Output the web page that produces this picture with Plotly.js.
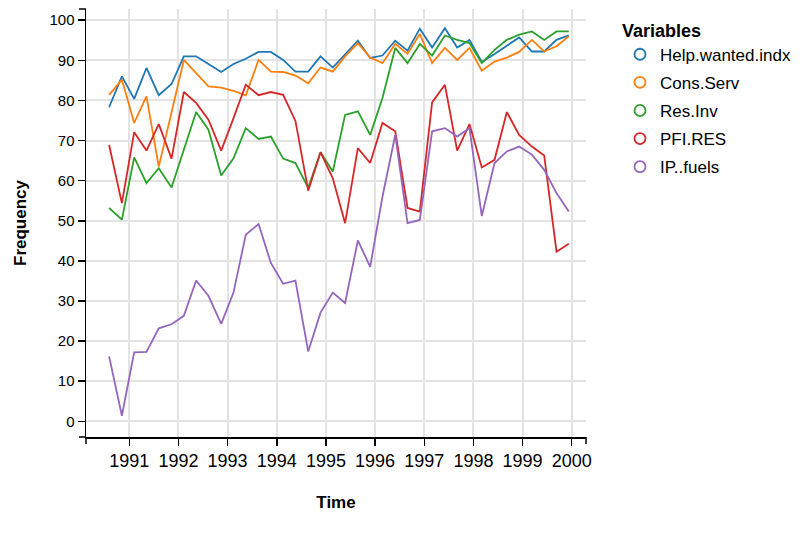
<!DOCTYPE html>
<html>
<head>
<meta charset="utf-8">
<script src="https://cdn.plot.ly/plotly-3.0.1.min.js"></script>
<style>html,body{margin:0;padding:0;background:#fff;}#chart{width:800px;height:547px;}</style>
</head>
<body>
<div id="chart"></div>
<script>
// Time (decimal years, quarterly observations)
const time = [1990.59, 1990.85, 1991.10, 1991.35, 1991.60, 1991.86, 1992.11, 1992.36, 1992.61, 1992.87,
              1993.12, 1993.37, 1993.63, 1993.88, 1994.13, 1994.38, 1994.64, 1994.89, 1995.14, 1995.39,
              1995.65, 1995.90, 1996.15, 1996.41, 1996.66, 1996.91, 1997.16, 1997.42, 1997.67, 1997.92,
              1998.17, 1998.43, 1998.68, 1998.93, 1999.19, 1999.44, 1999.69, 1999.94];

const seriesNames = ["Help.wanted.indx", "Cons.Serv", "Res.Inv", "PFI.RES", "IP..fuels"];
const seriesColors = ["#1f77b4", "#ff7f0e", "#2ca02c", "#d62728", "#9467bd"];

const helpWanted = [78.3, 86, 80.4, 88.1, 81.3, 84.1, 91, 91, 89.1, 87.1,
                    89.1, 90.4, 92.1, 92.1, 90.1, 87.2, 87.2, 91, 88.2, 91.6,
                    94.9, 90.6, 91.2, 94.9, 92.4, 97.9, 93.2, 98, 93.2, 95.1,
                    89.6, 91.6, 93.7, 95.7, 92.2, 92.2, 95.1, 96.2];
const consServ = [81.4, 85.2, 74.4, 81, 63.5, 77, 90.1, 86.8, 83.5, 83.2,
                  82.4, 81.3, 90.1, 87.2, 87.1, 86.2, 84.3, 88.2, 87.2, 91,
                  94.3, 90.7, 89.3, 94.1, 91.6, 96.6, 89.3, 93.1, 90.1, 93.1,
                  87.4, 89.7, 90.7, 92.1, 95.1, 92.2, 93.5, 96];
const resInv = [53.2, 50.3, 65.8, 59.4, 63.1, 58.3, 67.7, 77.1, 72.7, 61.3,
                65.6, 73.1, 70.4, 71, 65.5, 64.4, 58.2, 67.1, 62.3, 76.4,
                77.3, 71.4, 80.6, 93.1, 89.3, 94.1, 91.2, 96.2, 95.1, 94.3,
                89.3, 92.6, 95.1, 96.4, 97.2, 95.1, 97.2, 97.2];
const pfiRes = [68.9, 54.4, 72.1, 67.5, 74.1, 65.5, 82.1, 79.4, 75.2, 67.5,
                75.6, 83.9, 81.3, 82.1, 81.4, 74.9, 57.5, 67.1, 60.6, 49.4,
                68.1, 64.4, 74.4, 72.3, 53.2, 52.3, 79.5, 83.9, 67.5, 74.1,
                63.3, 65.2, 77.1, 71.4, 68.5, 66.3, 42.3, 44.3];
const ipFuels = [16.2, 1.4, 17.2, 17.3, 23.2, 24.2, 26.3, 35.1, 31.3, 24.3,
                 32.1, 46.5, 49.2, 39.5, 34.3, 35.1, 17.4, 27.1, 32.1, 29.5,
                 45.1, 38.5, 56, 71.4, 49.4, 50.2, 72.3, 73.1, 71, 73.1,
                 51.2, 64.4, 67.3, 68.5, 66.5, 62.7, 56.9, 52.3];

const xTickVals = [1991, 1992, 1993, 1994, 1995, 1996, 1997, 1998, 1999, 2000];
const xTickText = ["1991", "1992", "1993", "1994", "1995", "1996", "1997", "1998", "1999", "2000"];
const yTickVals = [0, 10, 20, 30, 40, 50, 60, 70, 80, 90, 100];

const seriesValues = [helpWanted, consServ, resInv, pfiRes, ipFuels];

const FONT = "Liberation Sans, Arial, Helvetica, sans-serif";

const traces = [];
seriesNames.forEach((name, i) => {
  traces.push({
    x: time, y: seriesValues[i], type: "scatter", mode: "lines", name: name,
    line: {color: seriesColors[i], width: 1.8},
    legendgroup: name, showlegend: false, hoverinfo: "x+y+name"
  });
});
seriesNames.forEach((name, i) => {
  traces.push({
    x: [null], y: [null], type: "scatter", mode: "markers", name: name,
    marker: {symbol: "circle-open", size: 11, color: seriesColors[i], line: {width: 1.8, color: seriesColors[i]}},
    legendgroup: name, showlegend: true
  });
});

const outerTick = (axis, pos) => axis === "x"
  ? {type: "line", xref: "paper", yref: "paper", x0: pos, x1: pos, ysizemode: "pixel", yanchor: 0, y0: 0, y1: -7, line: {color: "#000", width: 1.5}}
  : {type: "line", xref: "paper", yref: "paper", y0: pos, y1: pos, xsizemode: "pixel", xanchor: 0, x0: 0, x1: -7, line: {color: "#000", width: 1.5}};

const layout = {
  width: 800, height: 547,
  margin: {l: 86, r: 214, t: 9, b: 110, autoexpand: false},
  paper_bgcolor: "#fff", plot_bgcolor: "#fff",
  font: {family: FONT, size: 15, color: "#000"},
  showlegend: true,
  xaxis: {
    range: [1990.12, 2000.29], tickmode: "array", tickvals: xTickVals, ticktext: xTickText,
    showgrid: true, gridcolor: "#e3e3e3", gridwidth: 2, zeroline: false,
    showline: true, linecolor: "#000", linewidth: 1.5,
    ticks: "outside", ticklen: 7, tickwidth: 1.5, tickcolor: "#000",
    tickfont: {family: FONT, size: 18},
    title: {text: "<b>Time</b>", font: {family: FONT, size: 17}, standoff: 26}
  },
  yaxis: {
    range: [-3.9, 102.8], tickmode: "array", tickvals: yTickVals,
    showgrid: true, gridcolor: "#e3e3e3", gridwidth: 2, zeroline: false,
    showline: true, linecolor: "#000", linewidth: 1.5,
    ticks: "outside", ticklen: 7, tickwidth: 1.5, tickcolor: "#000",
    tickfont: {family: FONT, size: 15},
    title: {text: "<b>Frequency</b>", font: {family: FONT, size: 17}, standoff: 18}
  },
  legend: {
    x: 1.068, y: 0.99, xanchor: "left", yanchor: "top",
    title: {text: "<b>Variables</b>", font: {family: FONT, size: 18}},
    font: {family: FONT, size: 17}, tracegroupgap: 3, itemwidth: 30,
    bgcolor: "rgba(0,0,0,0)"
  },
  shapes: [outerTick("x", 0), outerTick("x", 1), outerTick("y", 0), outerTick("y", 1)]
};

Plotly.newPlot("chart", traces, layout, {displayModeBar: false, staticPlot: true});
</script>
</body>
</html>
